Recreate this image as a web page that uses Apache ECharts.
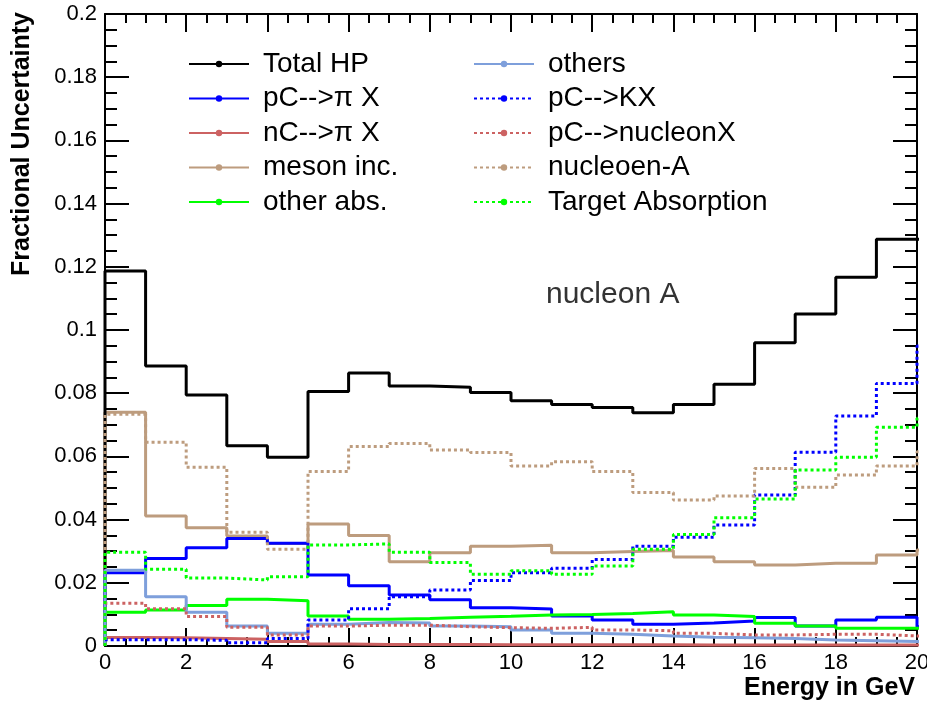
<!DOCTYPE html>
<html>
<head>
<meta charset="utf-8">
<script src="https://cdn.jsdelivr.net/npm/echarts@6/dist/echarts.min.js"></script>
<style>
  html, body { margin: 0; padding: 0; background: #fff; }
  #chart { width: 927px; height: 701px; }
</style>
</head>
<body>
<div id="chart"></div>
<script>
// Lower edges of the 1 GeV energy bins (the last bin lies just past the axis range)
const binLow = [0,1,2,3,4,5,6,7,8,9,10,11,12,13,14,15,16,17,18,19,20];
const binWidth = 1;

// Fractional uncertainty per bin, one array per contribution
const totalHP    = [0.1187,0.0886,0.0794,0.0634,0.0597,0.0805,0.0864,0.0823,0.0819,0.0802,0.0776,0.0764,0.0755,0.0738,0.0764,0.0828,0.0960,0.1051,0.1167,0.1287,0.1287];
const pCpiX      = [0.0232,0.0277,0.0311,0.0340,0.0325,0.0225,0.0191,0.0161,0.0146,0.0121,0.0117,0.0095,0.0082,0.0069,0.0073,0.0079,0.0090,0.0063,0.0082,0.0091,0.0061];
const nCpiX      = [0.0027,0.0026,0.0024,0.0021,0.0014,0.0006,0.0005,0.0005,0.0005,0.0004,0.0004,0.0004,0.0004,0.0004,0.0003,0.0003,0.0003,0.0003,0.0003,0.0003,0.0003];
const mesonInc   = [0.0740,0.0411,0.0374,0.0348,0.0324,0.0386,0.0350,0.0267,0.0295,0.0316,0.0319,0.0295,0.0299,0.0302,0.0282,0.0267,0.0256,0.0262,0.0262,0.0288,0.0304];
const otherAbs   = [0.0107,0.0114,0.0128,0.0148,0.0143,0.0095,0.0085,0.0087,0.0091,0.0094,0.0098,0.0100,0.0103,0.0108,0.0098,0.0093,0.0072,0.0063,0.0056,0.0056,0.0053];
const others     = [0.0240,0.0156,0.0107,0.0063,0.0040,0.0069,0.0074,0.0073,0.0063,0.0061,0.0051,0.0040,0.0037,0.0032,0.0028,0.0026,0.0024,0.0019,0.0017,0.0014,0.0014];
const pCKX       = [0.0020,0.0020,0.0018,0.0010,0.0024,0.0082,0.0118,0.0156,0.0177,0.0207,0.0232,0.0246,0.0274,0.0316,0.0344,0.0383,0.0478,0.0613,0.0728,0.0831,0.0949];
const pCnucleonX = [0.0135,0.0118,0.0093,0.0059,0.0035,0.0063,0.0066,0.0066,0.0061,0.0058,0.0056,0.0059,0.0051,0.0048,0.0040,0.0035,0.0035,0.0037,0.0037,0.0032,0.0032];
const nucleoenA  = [0.0733,0.0645,0.0566,0.0360,0.0306,0.0552,0.0631,0.0641,0.0620,0.0612,0.0570,0.0583,0.0552,0.0486,0.0462,0.0475,0.0562,0.0502,0.0541,0.0570,0.0615];
const targetAbs  = [0.0297,0.0243,0.0215,0.0209,0.0219,0.0320,0.0323,0.0297,0.0264,0.0227,0.0238,0.0227,0.0253,0.0306,0.0353,0.0406,0.0465,0.0557,0.0597,0.0692,0.0721];

// Legend labels (two columns)
const leftNames  = ['Total HP', 'pC-->\u03c0 X', 'nC-->\u03c0 X', 'meson inc.', 'other abs.'];
const rightNames = ['others', 'pC-->KX', 'pC-->nucleonX', 'nucleoen-A', 'Target Absorption'];

const FONT = 'Liberation Sans, Arial, Helvetica, sans-serif';
const TAN = '#bd9c7e', RED = '#cc6262', LBLUE = '#7e9fdb';

// Histogram outline: rise from zero at the first edge, then flat tops joined by vertical steps
function histPath(values) {
  const pts = [[binLow[0], 0]];
  values.forEach((v, i) => {
    pts.push([binLow[i], v]);
    pts.push([binLow[i] + binWidth, v]);
  });
  return pts;
}

function histSeries(name, values, color, dotted, z) {
  return {
    name: name,
    type: 'line',
    data: histPath(values),
    symbol: 'circle',
    symbolSize: 7,
    showSymbol: false,
    silent: true,
    animation: false,
    clip: true,
    z: z,
    itemStyle: { color: color },
    lineStyle: { color: color, width: 3, type: dotted ? [3, 3] : 'solid' }
  };
}

const series = [
  histSeries('Total HP', totalHP, '#000000', false, 3),
  histSeries('meson inc.', mesonInc, TAN, false, 2),
  histSeries('pC-->\u03c0 X', pCpiX, '#0000ff', false, 3),
  histSeries('nC-->\u03c0 X', nCpiX, RED, false, 3),
  histSeries('other abs.', otherAbs, '#00ff00', false, 3),
  histSeries('others', others, LBLUE, false, 3),
  histSeries('pC-->KX', pCKX, '#0000ff', true, 4),
  histSeries('pC-->nucleonX', pCnucleonX, RED, true, 4),
  histSeries('nucleoen-A', nucleoenA, TAN, true, 4),
  histSeries('Target Absorption', targetAbs, '#00ff00', true, 4)
];

const axisLine = { show: true, onZero: false, lineStyle: { color: '#000', width: 2 } };

function legendCol(names, left) {
  return {
    data: names,
    orient: 'vertical',
    left: left,
    top: 50,
    padding: 0,
    itemWidth: 60,
    itemHeight: 8,
    itemGap: 6.5,
    selectedMode: false,
    textStyle: { fontFamily: FONT, fontSize: 28, lineHeight: 27.5, color: '#000', padding: [0, 0, 0, 9] }
  };
}

const chart = echarts.init(document.getElementById('chart'), null, { renderer: 'canvas' });
chart.setOption({
  backgroundColor: '#ffffff',
  animation: false,
  grid: { left: 105, right: 10, top: 14, bottom: 55, containLabel: false, outerBoundsMode: 'none' },
  legend: [legendCol(leftNames, 188), legendCol(rightNames, 473)],
  xAxis: [
    {
      type: 'value', min: 0, max: 20, interval: 2, position: 'bottom',
      name: 'Energy in GeV', nameLocation: 'end', nameGap: -2,
      nameTextStyle: { fontFamily: FONT, fontSize: 25, fontWeight: 'bold', color: '#000', align: 'right', verticalAlign: 'top', padding: [30, 0, 0, 0] },
      axisLine: axisLine,
      axisTick: { show: true, inside: true, length: 18, lineStyle: { color: '#000', width: 2 } },
      minorTick: { show: true, splitNumber: 4, length: 9, lineStyle: { color: '#000', width: 2 } },
      axisLabel: { fontFamily: FONT, fontSize: 22, color: '#000', margin: 6 },
      splitLine: { show: false }
    },
    {
      type: 'value', min: 0, max: 20, interval: 2, position: 'top',
      axisLine: axisLine,
      axisTick: { show: true, inside: true, length: 18, lineStyle: { color: '#000', width: 2 } },
      minorTick: { show: true, splitNumber: 4, length: 9, lineStyle: { color: '#000', width: 2 } },
      axisLabel: { show: false },
      splitLine: { show: false }
    }
  ],
  yAxis: [
    {
      type: 'value', min: 0, max: 0.2, interval: 0.02, position: 'left',
      name: 'Fractional Uncertainty', nameLocation: 'end', nameGap: 2, nameRotate: 90,
      nameTextStyle: { fontFamily: FONT, fontSize: 25, fontWeight: 'bold', color: '#000', align: 'right', verticalAlign: 'bottom', padding: [0, 0, 70, 0] },
      axisLine: axisLine,
      axisTick: { show: true, inside: true, length: 24, lineStyle: { color: '#000', width: 2 } },
      minorTick: { show: true, splitNumber: 4, length: 12, lineStyle: { color: '#000', width: 2 } },
      axisLabel: {
        fontFamily: FONT, fontSize: 22, color: '#000', margin: 8,
        formatter: v => String(+v.toFixed(2))
      },
      splitLine: { show: false }
    },
    {
      type: 'value', min: 0, max: 0.2, interval: 0.02, position: 'right',
      axisLine: axisLine,
      axisTick: { show: true, inside: true, length: 24, lineStyle: { color: '#000', width: 2 } },
      minorTick: { show: true, splitNumber: 4, length: 12, lineStyle: { color: '#000', width: 2 } },
      axisLabel: { show: false },
      splitLine: { show: false }
    }
  ],
  graphic: [
    {
      type: 'text', left: 546, top: 280,
      style: { text: 'nucleon A', fontFamily: FONT, fontSize: 30, fill: '#333333' }
    }
  ],
  series: series
});
</script>
</body>
</html>
